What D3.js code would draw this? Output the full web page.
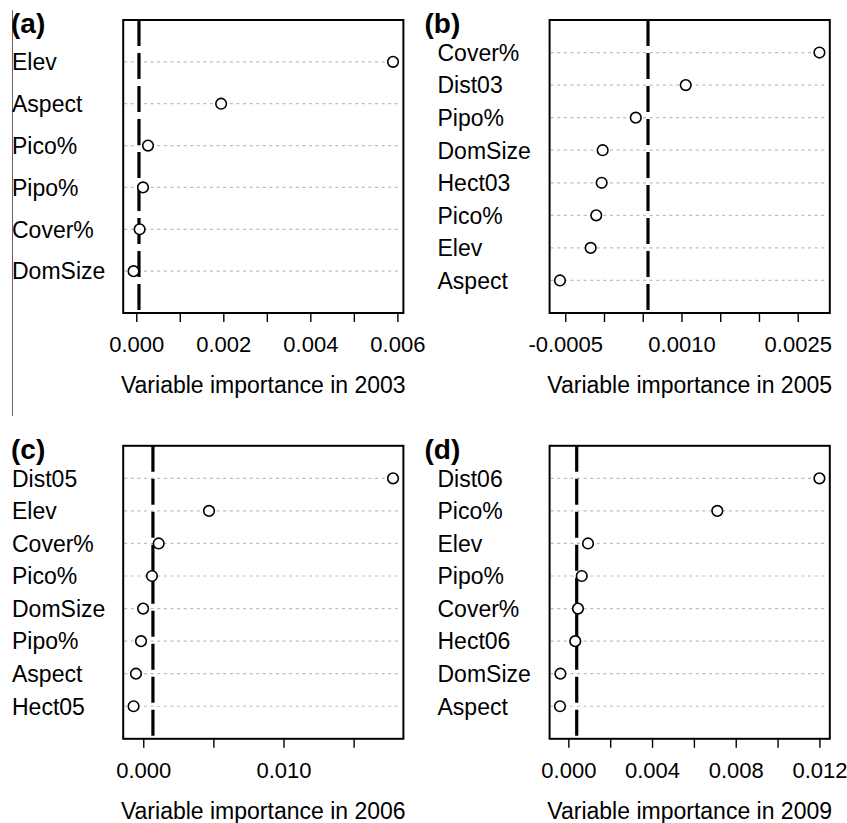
<!DOCTYPE html>
<meta charset="utf-8">
<html>
<style>
body { margin: 0; background: #fff; }
svg { font-family: "Liberation Sans", Arial, sans-serif; }
.grid { stroke: #bdbdbd; stroke-width: 1.2; stroke-dasharray: 3,3.6; }
.frame { fill: none; stroke: #000; stroke-width: 2; }
.cut { stroke: #000; stroke-width: 3.2; stroke-dasharray: 26,7; }
.dot { fill: #fff; stroke: #000; stroke-width: 1.6; }
</style>
<body>
<script src="https://cdn.jsdelivr.net/npm/d3@7"></script>
<script type="text/javascript">

// (a) 2003
var varsA = ["Elev", "Aspect", "Pico%", "Pipo%", "Cover%", "DomSize"];
var impA = [0.00590, 0.00195, 0.00027, 0.000155, 0.000077, -0.000062];
var ticksA = [0, 0.001, 0.002, 0.003, 0.004, 0.005, 0.006];
var labelsA = ["0.000", "", "0.002", "", "0.004", "", "0.006"];

// (b) 2005
var varsB = ["Cover%", "Dist03", "Pipo%", "DomSize", "Hect03", "Pico%", "Elev", "Aspect"];
var impB = [0.00278, 0.001055, 0.00041, -0.000017, -0.00003, -0.0001, -0.000172, -0.000568];
var ticksB = [-0.0005, 0, 0.0005, 0.001, 0.0015, 0.002, 0.0025];
var labelsB = ["-0.0005", "", "", "0.0010", "", "", "0.0025"];

// (c) 2006
var varsC = ["Dist05", "Elev", "Cover%", "Pico%", "DomSize", "Pipo%", "Aspect", "Hect05"];
var impC = [0.01781, 0.00469, 0.0011, 0.00062, -0.00001, -0.00016, -0.00052, -0.00069];
var ticksC = [0, 0.005, 0.010, 0.015];
var labelsC = ["0.000", "", "0.010", ""];

// (d) 2009
var varsD = ["Dist06", "Pico%", "Elev", "Pipo%", "Cover%", "Hect06", "DomSize", "Aspect"];
var impD = [0.0120, 0.00712, 0.00094, 0.00064, 0.00046, 0.00033, -0.00038, -0.0004];
var ticksD = [0, 0.002, 0.004, 0.006, 0.008, 0.010, 0.012];
var labelsD = ["0.000", "", "0.004", "", "0.008", "", "0.012"];

var years = ["2003", "2005", "2006", "2009"];
var tags = ["(a)", "(b)", "(c)", "(d)"];

var width = 847, height = 823;
var boxW = 280.2, boxH = 293;

var svg = d3.select("body").append("svg")
    .attr("width", width)
    .attr("height", height);

svg.append("rect").attr("width", width).attr("height", height).attr("fill", "#fff");

// thin grey edge line left from the scan
svg.append("line")
    .attr("x1", 12.5).attr("x2", 12.5)
    .attr("y1", 10).attr("y2", 416)
    .attr("stroke", "#666").attr("stroke-width", 1);

var panels = [
  {vars: varsA, imp: impA, ticks: ticksA, labels: labelsA, bx: 123.2, by: 20, lx: 12, tx: 11},
  {vars: varsB, imp: impB, ticks: ticksB, labels: labelsB, bx: 549.6, by: 20, lx: 437.5, tx: 424.5},
  {vars: varsC, imp: impC, ticks: ticksC, labels: labelsC, bx: 123.2, by: 445.8, lx: 12, tx: 11},
  {vars: varsD, imp: impD, ticks: ticksD, labels: labelsD, bx: 549.6, by: 445.8, lx: 437.5, tx: 424.5}
];

panels.forEach(function(p, k) {
  var n = p.vars.length;
  // R style range with 4% padding
  var ext = d3.extent(p.imp);
  var pad = (ext[1] - ext[0]) * 0.04;
  var x = d3.scaleLinear().domain([ext[0] - pad, ext[1] + pad]).range([p.bx, p.bx + boxW]);
  var y = d3.scaleLinear().domain([0, n + 1]).range([p.by + boxH, p.by]);

  var g = svg.append("g");

  // dotted guide lines
  g.selectAll(".grid").data(p.vars).enter().append("line")
    .attr("class", "grid")
    .attr("x1", p.bx + 1).attr("x2", p.bx + boxW - 4)
    .attr("y1", function(d, i) { return y(n - i); })
    .attr("y2", function(d, i) { return y(n - i); });

  // dashed line at |min importance|
  var cut = Math.abs(ext[0]);
  g.append("line")
    .attr("class", "cut")
    .attr("x1", x(cut)).attr("x2", x(cut))
    .attr("y1", p.by).attr("y2", p.by + boxH);

  g.selectAll(".dot").data(p.imp).enter().append("circle")
    .attr("class", "dot")
    .attr("r", 5.3)
    .attr("cx", function(d) { return x(d); })
    .attr("cy", function(d, i) { return y(n - i); });

  g.append("rect")
    .attr("class", "frame")
    .attr("x", p.bx).attr("y", p.by)
    .attr("width", boxW).attr("height", boxH);

  // variable names
  g.selectAll(".vlab").data(p.vars).enter().append("text")
    .attr("x", p.lx)
    .attr("y", function(d, i) { return y(n - i); })
    .attr("dy", "0.36em")
    .attr("font-size", 23)
    .text(function(d) { return d; });

  // x axis
  var axis = d3.axisBottom(x)
    .tickValues(p.ticks)
    .tickSize(9)
    .tickPadding(14.5)
    .tickFormat(function(d, i) { return p.labels[i]; });

  var ax = g.append("g")
    .attr("transform", "translate(0," + (p.by + boxH) + ")")
    .call(axis);
  ax.select(".domain").remove();
  ax.selectAll(".tick line").attr("stroke", "#000").attr("stroke-width", 1.4);
  ax.selectAll(".tick text")
    .attr("font-size", 22)
    .attr("font-family", "Liberation Sans, Arial, sans-serif")
    .attr("fill", "#000");

  g.append("text")
    .attr("x", p.bx + boxW / 2)
    .attr("y", p.by + boxH + 80)
    .attr("text-anchor", "middle")
    .attr("font-size", 23)
    .text("Variable importance in " + years[k]);

  g.append("text")
    .attr("x", p.tx)
    .attr("y", p.by + 13)
    .attr("font-size", 28)
    .attr("font-weight", "bold")
    .text(tags[k]);
});
</script>
</body>
</html>
